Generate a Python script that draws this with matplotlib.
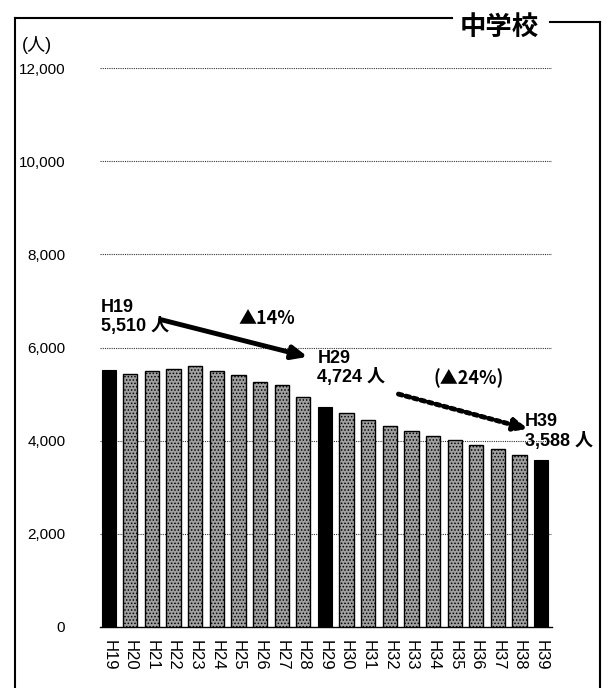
import matplotlib
matplotlib.use('Agg')
import matplotlib.pyplot as plt
from matplotlib.lines import Line2D

plt.rcParams['font.family'] = ['Liberation Sans', 'DejaVu Sans', 'Noto Sans CJK JP']
plt.rcParams['hatch.linewidth'] = 0.7

# 中学校 生徒数の推移 (H19〜H39)
years = ['H19', 'H20', 'H21', 'H22', 'H23', 'H24', 'H25', 'H26', 'H27', 'H28', 'H29',
         'H30', 'H31', 'H32', 'H33', 'H34', 'H35', 'H36', 'H37', 'H38', 'H39']
students = [5510, 5427, 5489, 5531, 5606, 5490, 5406, 5267, 5198, 4934, 4724,
            4586, 4449, 4310, 4212, 4102, 4019, 3915, 3811, 3692, 3588]
highlight = ['H19', 'H29', 'H39']
yticks = [0, 2000, 4000, 6000, 8000, 10000, 12000]

fig = plt.figure(figsize=(6.13, 6.88), dpi=100)
ax = fig.add_axes([100 / 613, 61 / 688, 452 / 613, 559 / 688])

x = list(range(len(years)))
for i, (yr, v) in enumerate(zip(years, students)):
    if yr in highlight:
        ax.bar(i, v, width=0.66, color='black', edgecolor='black', linewidth=0.8, zorder=3)
    else:
        ax.bar(i, v, width=0.66, color='#a0a0a0', edgecolor='black', hatch='.....',
               linewidth=1.0, zorder=3)

ax.set_xlim(-0.4, 20.5)
ax.set_ylim(0, 12000)
ax.set_yticks(yticks)
ax.set_yticklabels([f'{t:,}' for t in yticks], fontsize=11)
ax.set_xticks(x)
ax.set_xticklabels(years, rotation=-90, fontsize=12)
ax.tick_params(axis='both', length=0)
ax.tick_params(axis='y', pad=25)
ax.tick_params(axis='x', pad=9)
for t in yticks[1:]:
    ax.axhline(t, color='#333333', linestyle=(0, (1, 1)), linewidth=0.8, zorder=1)
for s in ['top', 'right', 'left']:
    ax.spines[s].set_visible(False)
ax.spines['bottom'].set_linewidth(1.0)

# 注記
i19, i29, i39 = years.index('H19'), years.index('H29'), years.index('H39')
bold = dict(fontsize=13, fontweight='bold', color='black')
tri = dict(fontsize=13, fontweight='bold', color='black',
           family=['Noto Sans CJK JP', 'Liberation Sans'])
ax.text(i19 - 0.35, students[i19] + 750, 'H19\n5,510 人', ha='left', va='bottom',
        linespacing=1.1, **bold)
ax.text(7.3, 6630, '▲14%', ha='center', va='center', **tri)
ax.annotate('', xy=(9.2, 5800), xytext=(2.4, 6600),
            arrowprops=dict(arrowstyle='-|>,head_length=0.9,head_width=0.4',
                            color='black', lw=3.5, shrinkA=0, shrinkB=0))
ax.text(i29 - 0.35, students[i29] + 450, 'H29\n4,724 人', ha='left', va='bottom',
        linespacing=1.1, **bold)
ax.text(16.65, 5330, '(▲24%)', ha='center', va='center', **tri)
ax.annotate('', xy=(19.4, 4250), xytext=(13.4, 5000),
            arrowprops=dict(arrowstyle='-|>,head_length=0.8,head_width=0.35',
                            color='black', lw=3.5, linestyle=(0, (0.8, 0.8)),
                            shrinkA=0, shrinkB=0))
ax.text(i39 - 0.76, students[i39] + 220, 'H39\n3,588 人', ha='left', va='bottom',
        linespacing=1.1, clip_on=False, **bold)

# 単位・見出し
fig.text(22 / 613, 1 - 45 / 688, '(人)', fontsize=13, ha='left', va='center')
fig.text(499 / 613, 1 - 27 / 688, '中学校', fontsize=19, fontweight='bold',
         ha='center', va='center')

# 外枠
fx = lambda px: px / 613
fy = lambda py: 1 - py / 688
frame = [
    ([fx(15), fx(15)], [fy(18), fy(688)]),
    ([fx(15), fx(452)], [fy(18), fy(18)]),
    ([fx(550), fx(600)], [fy(22), fy(22)]),
    ([fx(600), fx(600)], [fy(22), fy(688)]),
]
for xs, ys in frame:
    fig.add_artist(Line2D(xs, ys, color='black', linewidth=1.5))

fig.savefig('out.png', dpi=100)
